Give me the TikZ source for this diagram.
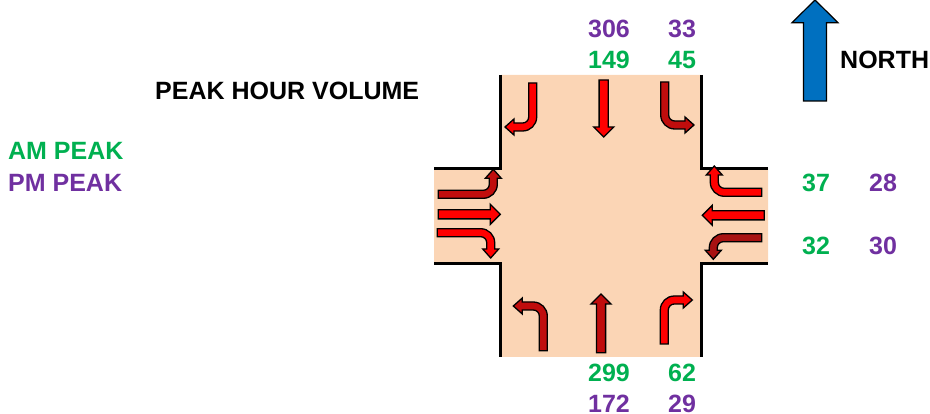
\documentclass[tikz,border=0pt]{standalone}
\usepackage{fontspec}
\setmainfont{Liberation Sans}
\definecolor{peach}{HTML}{FBD5B5}
\definecolor{amgreen}{HTML}{00B050}
\definecolor{pmpurple}{HTML}{7030A0}
\definecolor{northblue}{HTML}{0070C0}
\definecolor{darkmv}{HTML}{C00D0D}
\definecolor{darkermv}{HTML}{A81212}
\tikzset{
  lbl/.style={font=\fontsize{25}{28}\selectfont\bfseries, inner sep=0pt},
  amv/.style={lbl, text=amgreen},
  pmv/.style={lbl, text=pmpurple},
  wall/.style={draw=black, line width=3.6pt, line cap=butt, line join=miter},
  mv/.style={draw=black, line width=1.3pt, line join=miter, fill=#1}
}
% colour, x, y, rotation, mirror, travel to bend, run after bend
\newcommand{\turnarrow}[7]{%
  \begin{scope}[shift={(#2,-#3)}, rotate=#4, xscale=#5]
    \draw[mv=#1] (-4,0) -- (-4,{#6-10}) arc[start angle=180,end angle=90,radius=14]
      -- ({#7-9},{#6+4}) -- ({#7-9},{#6+8}) -- (#7,#6) -- ({#7-9},{#6-8})
      -- ({#7-9},{#6-4}) -- (10,{#6-4}) arc[start angle=90,end angle=180,radius=6]
      -- (4,0) -- cycle;
  \end{scope}}
% colour, x, y, rotation, length
\newcommand{\straightarrow}[5]{%
  \begin{scope}[shift={(#2,-#3)}, rotate=#4]
    \draw[mv=#1] (-4.6,0) -- (-4.6,{#5-10}) -- (-10,{#5-10}) -- (0,#5)
      -- (10,{#5-10}) -- (4.6,{#5-10}) -- (4.6,0) -- cycle;
  \end{scope}}
\begin{document}
\begin{tikzpicture}[x=1pt,y=1pt]
\useasboundingbox (0,-414) rectangle (930,0);
% pavement
\fill[peach] (501,-75) -- (701,-75) -- (701,-168) -- (768,-168) -- (768,-264)
  -- (701,-264) -- (701,-357) -- (501,-357) -- (501,-264) -- (434,-264)
  -- (434,-168) -- (501,-168) -- cycle;
% kerbs
\draw[wall] (500.5,-75) -- (500.5,-168.4) -- (434,-168.4);
\draw[wall] (701.3,-75) -- (701.3,-168.4) -- (768,-168.4);
\draw[wall] (434,-263.7) -- (500.5,-263.7) -- (500.5,-357);
\draw[wall] (768,-263.7) -- (701.3,-263.7) -- (701.3,-357);
% north approach
\turnarrow{red}{532.7}{83}{180}{1}{44}{27.7}
\straightarrow{red}{603.7}{80}{180}{57}
\turnarrow{darkmv}{664.7}{82}{180}{-1}{43}{29.3}
% west approach
\turnarrow{darkmv}{438.3}{194.3}{-90}{-1}{55}{25}
\straightarrow{red}{438.3}{214.3}{-90}{62}
\turnarrow{red}{437.3}{232.7}{-90}{1}{53.4}{25.3}
% east approach
\turnarrow{red}{761.7}{192.3}{90}{1}{47.4}{26.3}
\straightarrow{red}{764.3}{215.3}{90}{62}
\turnarrow{darkermv}{761.7}{237.7}{90}{-1}{48.4}{21.6}
% south approach
\turnarrow{darkmv}{543.3}{350.7}{0}{-1}{44.7}{30}
\straightarrow{darkmv}{601}{352.7}{0}{58.7}
\turnarrow{red}{664.3}{344}{0}{1}{44}{28}
% north arrow
\draw[draw=black, line width=1.2pt, fill=northblue, line join=miter]
  (815,0) -- (838,-22.7) -- (826.5,-22.7) -- (826.5,-101) -- (803.5,-101)
  -- (803.5,-22.7) -- (792,-22.7) -- cycle;
\node[lbl, anchor=west] (north) at (840,-60) {NORTH};
% headings
\node[lbl, anchor=west] (title) at (155,-91) {PEAK HOUR VOLUME};
\node[amv, anchor=west] (am) at (8,-151) {AM PEAK};
\node[pmv, anchor=west] (pm) at (8,-183) {PM PEAK};
% volumes
\node[pmv] (n1) at (609,-29) {306};
\node[pmv] (n2) at (682,-29) {33};
\node[amv] (n3) at (609,-60) {149};
\node[amv] (n4) at (682,-60) {45};
\node[amv] (e1) at (816,-183) {37};
\node[pmv] (e2) at (883,-183) {28};
\node[amv] (e3) at (816,-246) {32};
\node[pmv] (e4) at (883,-246) {30};
\node[amv] (s1) at (609,-373) {299};
\node[amv] (s2) at (682,-373) {62};
\node[pmv] (s3) at (609,-404) {172};
\node[pmv] (s4) at (682,-404) {29};
\end{tikzpicture}
\end{document}
